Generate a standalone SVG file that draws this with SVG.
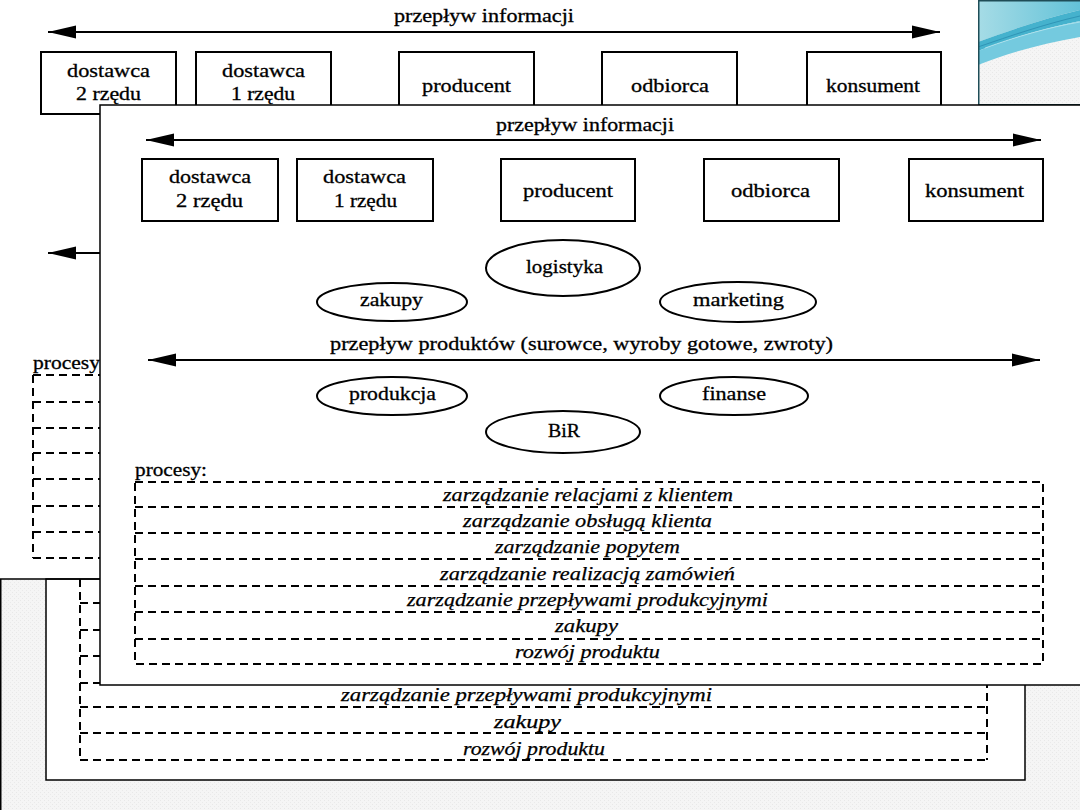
<svg xmlns="http://www.w3.org/2000/svg" width="1080" height="810" viewBox="0 0 1080 810">
<defs>
  <pattern id="tex" width="4" height="4" patternUnits="userSpaceOnUse">
    <rect width="4" height="4" fill="#f5f5f5"/>
    <rect x="0" y="0" width="1" height="1" fill="#e8e8e8"/>
    <rect x="2" y="2" width="1" height="1" fill="#eaeaea"/>
  </pattern>
  <linearGradient id="teal" x1="0" y1="0" x2="1" y2="0">
    <stop offset="0" stop-color="#a6dce6"/>
    <stop offset="1" stop-color="#63c2d8"/>
  </linearGradient>
  <marker id="ah" markerUnits="userSpaceOnUse" markerWidth="30" markerHeight="14" refX="28" refY="7" orient="auto-start-reverse">
    <path d="M0,0.5 L28,7 L0,13.5 Z" fill="#000"/>
  </marker>
  <style>
    .t{font-family:"Liberation Serif","Times New Roman",serif;font-size:19px;fill:#000;stroke:#000;stroke-width:0.3}
    .it{font-family:"Liberation Serif","Times New Roman",serif;font-size:18px;font-style:italic;fill:#000;stroke:#000;stroke-width:0.25}
    .box{fill:#fff;stroke:#000;stroke-width:2}
    .ell{fill:#fff;stroke:#000;stroke-width:2}
    .arr{stroke:#000;stroke-width:2;fill:none}
    .dash{stroke:#000;stroke-width:2;stroke-dasharray:8 5;fill:none}
    .frame{fill:#fff;stroke:#000;stroke-width:1.5}
  </style>
</defs>

<!-- slide background -->
<rect x="0" y="0" width="1080" height="810" fill="url(#tex)"/>

<!-- ================= BACK PANEL (top-left) ================= -->
<g id="back-panel">
  <rect x="0" y="0" width="978" height="579" fill="#fff"/>
  <text class="t" x="394" y="22" textLength="180" lengthAdjust="spacingAndGlyphs">przepływ informacji</text>
  <g id="back-connectors">
    <line class="arr" x1="48" y1="32" x2="940" y2="32" marker-start="url(#ah)" marker-end="url(#ah)"/>
    <line class="arr" x1="48" y1="253" x2="104" y2="253" marker-start="url(#ah)"/>
  </g>
  <g id="back-dostawca2">
    <rect class="box" x="41" y="52" width="135" height="62"/>
    <text class="t" x="67" y="77" textLength="83" lengthAdjust="spacingAndGlyphs">dostawca</text>
    <text class="t" x="76" y="100" textLength="65" lengthAdjust="spacingAndGlyphs">2 rzędu</text>
  </g>
  <g id="back-dostawca1">
    <rect class="box" x="196" y="52" width="135" height="62"/>
    <text class="t" x="222" y="77" textLength="83" lengthAdjust="spacingAndGlyphs">dostawca</text>
    <text class="t" x="231" y="100" textLength="64" lengthAdjust="spacingAndGlyphs">1 rzędu</text>
  </g>
  <g id="back-producent">
    <rect class="box" x="399" y="52" width="135" height="62"/>
    <text class="t" x="422" y="92" textLength="89" lengthAdjust="spacingAndGlyphs">producent</text>
  </g>
  <g id="back-odbiorca">
    <rect class="box" x="602" y="52" width="135" height="62"/>
    <text class="t" x="631" y="92" textLength="78" lengthAdjust="spacingAndGlyphs">odbiorca</text>
  </g>
  <g id="back-konsument">
    <rect class="box" x="807" y="52" width="134" height="62"/>
    <text class="t" x="826" y="92" textLength="94" lengthAdjust="spacingAndGlyphs">konsument</text>
  </g>
  <g id="back-procesy">
    <text class="t" x="33" y="369" textLength="67" lengthAdjust="spacingAndGlyphs">procesy</text>
    <line class="dash" x1="33" y1="375" x2="33" y2="558"/>
    <line class="dash" x1="33" y1="375" x2="110" y2="375"/>
    <line class="dash" x1="33" y1="402" x2="110" y2="402"/>
    <line class="dash" x1="33" y1="428" x2="110" y2="428"/>
    <line class="dash" x1="33" y1="453" x2="110" y2="453"/>
    <line class="dash" x1="33" y1="479" x2="110" y2="479"/>
    <line class="dash" x1="33" y1="506" x2="110" y2="506"/>
    <line class="dash" x1="33" y1="532" x2="110" y2="532"/>
    <line class="dash" x1="33" y1="558" x2="110" y2="558"/>
  </g>
</g>

<!-- ================= DECORATION (top-right) ================= -->
<g id="decoration">
  <rect x="978" y="0" width="103" height="105" fill="url(#tex)"/>
  <path d="M978,0 H1080 V10 C1045,18 1005,32 978,42 Z" fill="url(#teal)"/>
  <path d="M978,42 C1005,32 1045,18 1080,10 V21 C1045,28 1005,40 978,51 Z" fill="#45b2cd"/>
  <path d="M978,51 C1005,40 1045,28 1080,21 V37 C1040,44 1005,54 978,65 Z" fill="#74cadf"/>
  <path d="M978,47 C1010,36 1045,24 1080,16" stroke="#2a8db0" stroke-width="0.8" fill="none"/>
  <path d="M985,48 C1015,37 1050,27 1080,22" stroke="#b9e6ef" stroke-width="0.8" fill="none"/>
  <rect x="978.75" y="0.75" width="103" height="104" fill="none" stroke="#1f4d57" stroke-width="1.5"/>
</g>

<!-- ================= LOWER PANEL ================= -->
<g id="lower-panel">
  <rect x="46" y="579" width="979" height="201" fill="#fff" stroke="#000" stroke-width="1.5"/>
  <line x1="0" y1="579" x2="100" y2="579" stroke="#000" stroke-width="1.5"/>
  <line x1="0.75" y1="579" x2="0.75" y2="810" stroke="#000" stroke-width="1.5"/>
  <g id="lower-procesy">
    <line class="dash" x1="80" y1="579" x2="80" y2="760"/>
    <line class="dash" x1="80" y1="603" x2="110" y2="603"/>
    <line class="dash" x1="80" y1="630" x2="110" y2="630"/>
    <line class="dash" x1="80" y1="656" x2="110" y2="656"/>
    <line class="dash" x1="80" y1="683" x2="110" y2="683"/>
    <line class="dash" x1="80" y1="707" x2="987" y2="707"/>
    <line class="dash" x1="80" y1="733" x2="987" y2="733"/>
    <line class="dash" x1="80" y1="760" x2="987" y2="760"/>
    <line class="dash" x1="987" y1="680" x2="987" y2="760"/>
    <text class="it" x="341" y="701" textLength="371" lengthAdjust="spacingAndGlyphs">zarządzanie przepływami produkcyjnymi</text>
    <text class="it" x="494" y="728" textLength="67" lengthAdjust="spacingAndGlyphs">zakupy</text>
    <text class="it" x="463" y="755" textLength="142" lengthAdjust="spacingAndGlyphs">rozwój produktu</text>
  </g>
</g>

<!-- ================= FRONT PANEL ================= -->
<g id="front-panel">
  <rect class="frame" x="100" y="105" width="990" height="580"/>
  <text class="t" x="496" y="131" textLength="178" lengthAdjust="spacingAndGlyphs">przepływ informacji</text>
  <g id="front-connectors">
    <line class="arr" x1="146" y1="140" x2="1041" y2="140" marker-start="url(#ah)" marker-end="url(#ah)"/>
    <line class="arr" x1="148" y1="360" x2="1040" y2="360" marker-start="url(#ah)" marker-end="url(#ah)"/>
  </g>
  <g id="dostawca2">
    <rect class="box" x="142" y="159" width="136" height="62"/>
    <text class="t" x="169" y="183" textLength="82" lengthAdjust="spacingAndGlyphs">dostawca</text>
    <text class="t" x="176" y="207" textLength="67" lengthAdjust="spacingAndGlyphs">2 rzędu</text>
  </g>
  <g id="dostawca1">
    <rect class="box" x="297" y="159" width="136" height="62"/>
    <text class="t" x="323" y="183" textLength="83" lengthAdjust="spacingAndGlyphs">dostawca</text>
    <text class="t" x="334" y="207" textLength="63" lengthAdjust="spacingAndGlyphs">1 rzędu</text>
  </g>
  <g id="producent">
    <rect class="box" x="501" y="159" width="134" height="62"/>
    <text class="t" x="523" y="197" textLength="90" lengthAdjust="spacingAndGlyphs">producent</text>
  </g>
  <g id="odbiorca">
    <rect class="box" x="704" y="159" width="135" height="62"/>
    <text class="t" x="731" y="197" textLength="79" lengthAdjust="spacingAndGlyphs">odbiorca</text>
  </g>
  <g id="konsument">
    <rect class="box" x="909" y="159" width="134" height="62"/>
    <text class="t" x="925" y="197" textLength="99" lengthAdjust="spacingAndGlyphs">konsument</text>
  </g>
  <g id="logistyka">
    <ellipse class="ell" cx="563" cy="268" rx="77" ry="28"/>
    <text class="t" x="526" y="273" textLength="77" lengthAdjust="spacingAndGlyphs">logistyka</text>
  </g>
  <g id="zakupy">
    <ellipse class="ell" cx="392" cy="302" rx="75" ry="19"/>
    <text class="t" x="360" y="306" textLength="63" lengthAdjust="spacingAndGlyphs">zakupy</text>
  </g>
  <g id="marketing">
    <ellipse class="ell" cx="738" cy="302" rx="78" ry="20"/>
    <text class="t" x="693" y="306" textLength="91" lengthAdjust="spacingAndGlyphs">marketing</text>
  </g>
  <text class="t" x="330" y="350" textLength="503" lengthAdjust="spacingAndGlyphs">przepływ produktów (surowce, wyroby gotowe, zwroty)</text>
  <g id="produkcja">
    <ellipse class="ell" cx="392" cy="396" rx="75" ry="19"/>
    <text class="t" x="349" y="400" textLength="87" lengthAdjust="spacingAndGlyphs">produkcja</text>
  </g>
  <g id="finanse">
    <ellipse class="ell" cx="734" cy="396" rx="74" ry="19"/>
    <text class="t" x="702" y="400" textLength="64" lengthAdjust="spacingAndGlyphs">finanse</text>
  </g>
  <g id="BiR">
    <ellipse class="ell" cx="563" cy="432" rx="77" ry="21"/>
    <text class="t" x="548" y="437" textLength="32" lengthAdjust="spacingAndGlyphs">BiR</text>
  </g>
  <g id="procesy">
    <text class="t" x="135" y="476" textLength="72" lengthAdjust="spacingAndGlyphs">procesy:</text>
    <rect class="dash" x="135" y="482" width="908" height="182"/>
    <line class="dash" x1="135" y1="507" x2="1043" y2="507"/>
    <line class="dash" x1="135" y1="533" x2="1043" y2="533"/>
    <line class="dash" x1="135" y1="559" x2="1043" y2="559"/>
    <line class="dash" x1="135" y1="586" x2="1043" y2="586"/>
    <line class="dash" x1="135" y1="612" x2="1043" y2="612"/>
    <line class="dash" x1="135" y1="639" x2="1043" y2="639"/>
    <text class="it" x="443" y="501" textLength="290" lengthAdjust="spacingAndGlyphs">zarządzanie relacjami z klientem</text>
    <text class="it" x="463" y="527" textLength="249" lengthAdjust="spacingAndGlyphs">zarządzanie obsługą klienta</text>
    <text class="it" x="495" y="553" textLength="185" lengthAdjust="spacingAndGlyphs">zarządzanie popytem</text>
    <text class="it" x="440" y="580" textLength="295" lengthAdjust="spacingAndGlyphs">zarządzanie realizacją zamówień</text>
    <text class="it" x="407" y="606" textLength="361" lengthAdjust="spacingAndGlyphs">zarządzanie przepływami produkcyjnymi</text>
    <text class="it" x="555" y="632" textLength="63" lengthAdjust="spacingAndGlyphs">zakupy</text>
    <text class="it" x="515" y="658" textLength="145" lengthAdjust="spacingAndGlyphs">rozwój produktu</text>
  </g>
</g>
</svg>
